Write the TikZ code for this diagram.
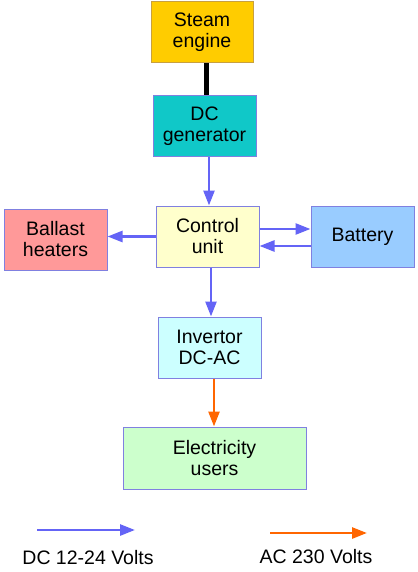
\documentclass[tikz,border=0pt]{standalone}
\usepackage{fontspec}
\setmainfont{Liberation Sans}
\usetikzlibrary{arrows.meta}
\definecolor{steamfill}{HTML}{FFCC00}
\definecolor{steamline}{HTML}{C8A040}
\definecolor{genfill}{HTML}{10C8C8}
\definecolor{ctrlfill}{HTML}{FFFFCC}
\definecolor{ballfill}{HTML}{FF9999}
\definecolor{battfill}{HTML}{99CCFF}
\definecolor{invfill}{HTML}{CCFFFF}
\definecolor{userfill}{HTML}{CCFFCC}
\definecolor{boxline}{HTML}{8080E0}
\definecolor{dcblue}{HTML}{6464F6}
\definecolor{acorange}{HTML}{FF6600}
\tikzset{
  blk/.style={draw=boxline, line width=1pt, rectangle, minimum width=103pt, minimum height=61pt,
    inner sep=0pt, align=center, font=\fontsize{19.5}{21}\selectfont},
  dc/.style={draw=dcblue, line width=2.6pt, -{Triangle[length=15pt,width=11pt]}},
  ac/.style={draw=acorange, line width=2.6pt, -{Triangle[length=15pt,width=11pt]}},
  shaft/.style={draw=black, line width=5pt},
  lbl/.style={font=\fontsize{19.5}{21}\selectfont, inner sep=0pt}
}
\begin{document}
\begin{tikzpicture}[x=1pt,y=-1pt]
\useasboundingbox[fill=white] (0,0) rectangle (417,572);
\node[blk, fill=steamfill, draw=steamline, minimum width=102pt] (steam) at (202,32.5) {Steam\\engine};
\node[blk, fill=genfill] (gen) at (204.5,126.5) {DC\\generator};
\node[blk, fill=ctrlfill] (ctrl) at (207.5,236.5) {Control\\unit};
\node[blk, fill=ballfill] (ball) at (55.5,239.5) {Ballast\\heaters};
\node[blk, fill=battfill] (batt) at (362.5,236.5) {Battery};
\node[blk, fill=invfill] (inv) at (209.5,347.5) {Invertor\\DC-AC};
\node[blk, fill=userfill, minimum width=183pt, minimum height=62pt] (users) at (214.5,458) {Electricity\\users};
% connectors
\draw[shaft] ([xshift=4pt]steam.south) -- ([xshift=4pt]steam.south |- gen.north);
\draw[dc] ([xshift=4.5pt]gen.south) -- ([xshift=4.5pt]gen.south |- ctrl.north);
\draw[dc] (ctrl.west) -- (ctrl.west -| ball.east);
\draw[dc] ([yshift=7.5pt]ctrl.east) -- ([yshift=7.5pt]ctrl.east -| batt.west);
\draw[dc] ([yshift=-9.5pt]batt.west) -- ([yshift=-9.5pt]batt.west -| ctrl.east);
\draw[dc] ([xshift=3.5pt]ctrl.south) -- ([xshift=3.5pt]ctrl.south |- inv.north);
\draw[ac] ([xshift=4.5pt]inv.south) -- ([xshift=4.5pt]inv.south |- users.north);
% legend
\coordinate (la1) at (37,530);
\coordinate (lb1) at (135,530);
\coordinate (la2) at (270,533);
\coordinate (lb2) at (367,533);
\draw[dc] (la1) -- (lb1);
\draw[ac] (la2) -- (lb2);
\node[lbl] (dclbl) at (88,558) {DC 12-24 Volts};
\node[lbl] (aclbl) at (316,557) {AC 230 Volts};
\end{tikzpicture}
\end{document}
